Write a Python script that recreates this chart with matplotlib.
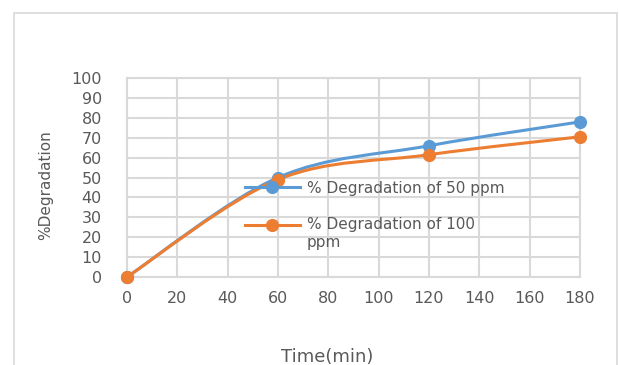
import numpy as np
import matplotlib
matplotlib.use("Agg")
import matplotlib.pyplot as plt
from matplotlib.path import Path
from matplotlib.patches import PathPatch, Rectangle
from matplotlib.lines import Line2D
from matplotlib.legend_handler import HandlerLine2D

# degradation over time for the two starting concentrations
time_min = [0, 60, 120, 180]
deg_50ppm = [0, 50, 66, 78]
deg_100ppm = [0, 49, 61.5, 70.5]
series_names = ["% Degradation of 50 ppm", "% Degradation of 100\nppm"]
colors = ["#5B9BD5", "#ED7D31"]

x_ticks = list(range(0, 181, 20))
y_ticks = list(range(0, 101, 10))


def smooth_path(xs, ys):
    # spreadsheet style smoothed line: cubic bezier through every point
    pts = np.column_stack([xs, ys]).astype(float)
    n = len(pts)
    verts = [pts[0]]
    codes = [Path.MOVETO]
    for i in range(n - 1):
        p0 = pts[i - 1] if i > 0 else pts[i]
        p1 = pts[i]
        p2 = pts[i + 1]
        p3 = pts[i + 2] if i + 2 < n else pts[i + 1]
        c1 = p1 + (p2 - p0) / 6.0
        c2 = p2 - (p3 - p1) / 6.0
        verts += [c1, c2, p2]
        codes += [Path.CURVE4] * 3
    return Path(verts, codes)


class FirstLineHandler(HandlerLine2D):
    # put the legend key level with the first line of a wrapped label
    def __init__(self, shift, **kw):
        super().__init__(**kw)
        self.shift = shift

    def create_artists(self, legend, orig_handle, xdescent, ydescent,
                       width, height, fontsize, trans):
        return super().create_artists(legend, orig_handle, xdescent,
                                      ydescent - self.shift, width, height,
                                      fontsize, trans)


fig = plt.figure(figsize=(6.19, 3.65), dpi=100)
ax = fig.add_axes([0.205, 0.241, 0.732, 0.545])

# light frame round the whole chart
fig.patches.append(Rectangle((14 / 619, -0.1), (617 - 14) / 619, 1.1 - 13 / 365,
                             transform=fig.transFigure, fill=False,
                             edgecolor="#d9d9d9", linewidth=1.2))

handles = []
for ys, name, c in zip([deg_50ppm, deg_100ppm], series_names, colors):
    ax.add_patch(PathPatch(smooth_path(time_min, ys), fill=False,
                           edgecolor=c, linewidth=2.2, zorder=3))
    ax.plot(time_min, ys, linestyle="none", marker="o", markersize=8.5,
            color=c, zorder=4, clip_on=False)
    handles.append(Line2D([], [], color=c, linewidth=2.2, marker="o",
                          markersize=8.5))

ax.set_xlim(0, 180)
ax.set_ylim(0, 100)
ax.set_xticks(x_ticks)
ax.set_yticks(y_ticks)
ax.grid(True, color="#d9d9d9", linewidth=1.5)
ax.set_axisbelow(True)
for s in ax.spines.values():
    s.set_color("#d9d9d9")
    s.set_linewidth(1.5)
ax.tick_params(length=0, labelsize=11.5, labelcolor="#595959")
ax.tick_params(axis="y", pad=18)
ax.tick_params(axis="x", pad=10)

fig.text(45.5 / 619, 1 - 185 / 365, "%Degradation", rotation=90,
         ha="center", va="center", fontsize=11, color="#595959")
fig.text(327 / 619, 1 - 357 / 365, "Time(min)", ha="center", va="center",
         fontsize=13, color="#595959")

ax.legend(handles, series_names, loc="upper left",
          bbox_to_anchor=(231 / 619, 1 - 167 / 365),
          bbox_transform=fig.transFigure, frameon=False, fontsize=11,
          handlelength=3.6, handletextpad=0.45, labelspacing=1.4,
          labelcolor="#595959",
          handler_map={handles[1]: FirstLineHandler(shift=13.5)})

fig.savefig("out.png", dpi=100)
